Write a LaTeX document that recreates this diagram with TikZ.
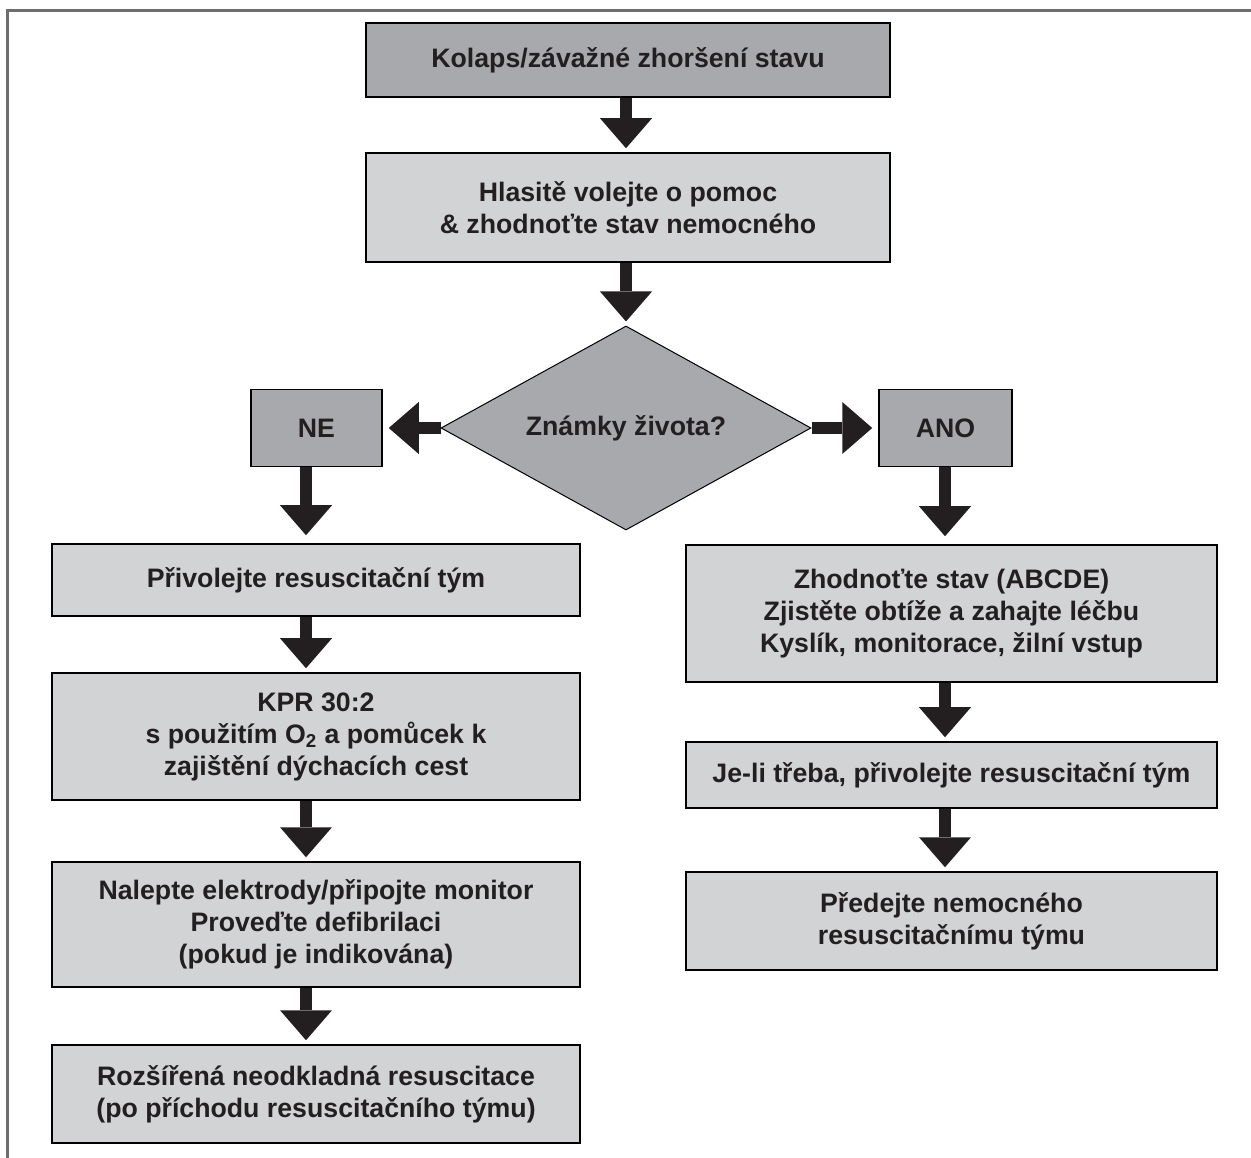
\documentclass[tikz,border=0pt]{standalone}
\usepackage{fontspec}
\setmainfont{Liberation Sans}
\usepackage{xcolor}
\usetikzlibrary{arrows.meta,shapes.geometric}

\definecolor{boxdark}{HTML}{A7A9AC}
\definecolor{boxlight}{HTML}{D1D3D4}
\definecolor{ink}{HTML}{231F20}
\definecolor{framegray}{HTML}{6D6E71}

\begin{document}
\begin{tikzpicture}[x=0.2mm,y=-0.2mm,
  txt/.style={text=ink,font=\fontsize{15.2}{18.2}\selectfont\bfseries},
  b/.style={txt,rectangle,draw=black,line width=0.3mm,inner sep=0pt,align=center},
  dk/.style={b,fill=boxdark},
  lt/.style={b,fill=boxlight},
  q/.style={txt,diamond,aspect=2,draw=black,line width=0.2mm,fill=boxdark,inner sep=0pt,
    minimum width=74mm,minimum height=40.8mm},
  go/.style={draw=ink,line width=2.4mm,shorten >=0.8mm,
    -{Triangle[length=6mm,width=10.4mm,line width=0pt]}}]
 \useasboundingbox (0,0) rectangle (1251,1158);
 \draw[framegray,line width=0.6mm] (1251,11) -- (7,11) -- (7,1158);
 % ---- arrow columns ----
 \coordinate (mcol) at (626,0);
 \coordinate (lcol) at (306,0);
 \coordinate (rcol) at (945,0);
 % ---- top ----
 \node[dk,minimum width=104.8mm,minimum height=14.8mm] (kolaps) at (628,60)
   {Kolaps/závažné zhoršení stavu};
 \node[lt,minimum width=104.8mm,minimum height=21.8mm] (hlasite) at (628,207.5)
   {Hlasitě volejte o pomoc\\\& zhodnoťte stav nemocného};
 \node[q] (zivot) at (626,428) {Známky života?};
 \node[dk,minimum width=26.2mm,minimum height=15.4mm] (ne) at (316.5,428) {NE};
 \node[dk,minimum width=26.6mm,minimum height=15.4mm] (ano) at (945.5,428) {ANO};
 % ---- NE branch ----
 \node[lt,minimum width=105.6mm,minimum height=14.4mm] (privol) at (316,580)
   {Přivolejte resuscitační tým};
 \node[lt,minimum width=105.6mm,minimum height=25.4mm] (kpr) at (316,736.5)
   {KPR 30:2\\s použitím O\textsubscript{2} a pomůcek k\\zajištění dýchacích cest};
 \node[lt,minimum width=105.6mm,minimum height=25mm] (nalepte) at (316,924.5)
   {Nalepte elektrody/připojte monitor\\Proveďte defibrilaci\\(pokud je indikována)};
 \node[lt,minimum width=105.6mm,minimum height=19.6mm] (rozsir) at (316,1094)
   {Rozšířená neodkladná resuscitace\\(po příchodu resuscitačního týmu)};
 % ---- ANO branch ----
 \node[lt,minimum width=106.2mm,minimum height=27.4mm] (zhodn) at (951.5,613.5)
   {Zhodnoťte stav (ABCDE)\\Zjistěte obtíže a zahajte léčbu\\Kyslík, monitorace, žilní vstup};
 \node[lt,minimum width=106.2mm,minimum height=13.2mm] (jeli) at (951.5,775)
   {Je-li třeba, přivolejte resuscitační tým};
 \node[lt,minimum width=106.2mm,minimum height=19.6mm] (predej) at (951.5,921)
   {Předejte nemocného\\resuscitačnímu týmu};
 % ---- arrows ----
 \draw[go] (kolaps.south -| mcol) -- (hlasite.north -| mcol);
 \draw[go] (hlasite.south -| mcol) -- (zivot.north);
 \draw[go,shorten >=1.2mm] (zivot.west) -- (ne.east |- zivot.west);
 \draw[go,shorten >=1.2mm] (zivot.east) -- (ano.west |- zivot.east);
 \draw[go,shorten >=1.6mm] (ne.south -| lcol) -- (privol.north -| lcol);
 \draw[go] (privol.south -| lcol) -- (kpr.north -| lcol);
 \draw[go] (kpr.south -| lcol) -- (nalepte.north -| lcol);
 \draw[go] (nalepte.south -| lcol) -- (rozsir.north -| lcol);
 \draw[go,shorten >=1.6mm] (ano.south -| rcol) -- (zhodn.north -| rcol);
 \draw[go] (zhodn.south -| rcol) -- (jeli.north -| rcol);
 \draw[go] (jeli.south -| rcol) -- (predej.north -| rcol);
\end{tikzpicture}
\end{document}
